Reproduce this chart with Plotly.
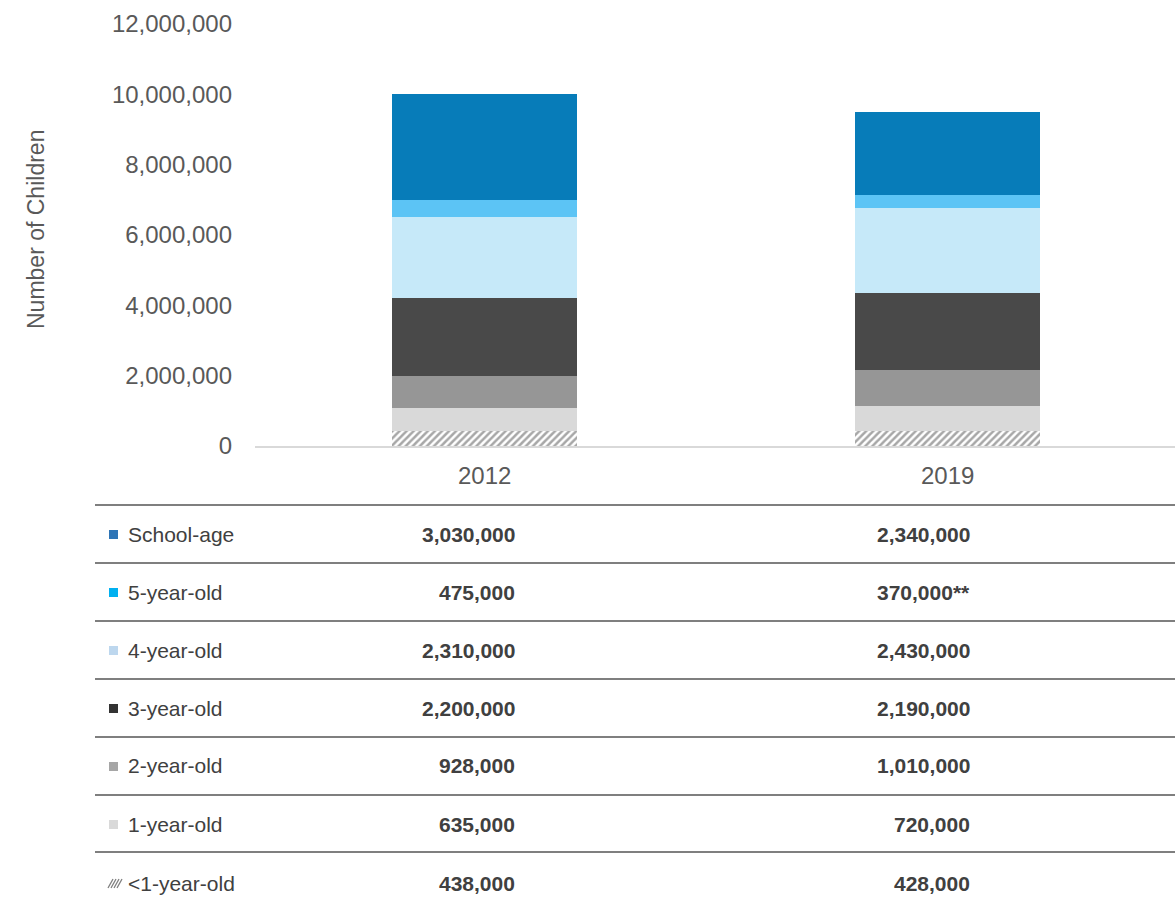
import plotly.graph_objects as go

years = ["2012", "2019"]
groups = ["<1-year-old", "1-year-old", "2-year-old", "3-year-old", "4-year-old", "5-year-old", "School-age"]
values_2012 = [438000, 635000, 928000, 2200000, 2310000, 475000, 3030000]
values_2019 = [428000, 720000, 1010000, 2190000, 2430000, 370000, 2340000]
notes_2019 = ["", "", "", "", "", "**", ""]
bar_colors = ["#FFFFFF", "#D9D9D9", "#969696", "#494949", "#C6E9F9", "#5CC4F5", "#077CB9"]
key_colors = ["#7F7F7F", "#D9D9D9", "#A6A6A6", "#333333", "#BDD7EE", "#00B0F0", "#2E75B6"]

W, H = 1175, 907
L, R, T, B = 255, 0, 24, 907 - 446
PW, PH = W - L - R, H - T - B


def px(x):
    return (x - L) / PW


def py(y):
    return (H - B - y) / PH


fig = go.Figure()
for i, g in enumerate(groups):
    marker = dict(color=bar_colors[i], line=dict(width=0))
    if i == 0:
        marker["pattern"] = dict(shape="/", fgcolor="#505050", bgcolor="#FFFFFF", size=5, solidity=0.5)
    fig.add_trace(go.Bar(x=years, y=[values_2012[i], values_2019[i]], name=g,
                         marker=marker, width=0.4, showlegend=False))

fig.update_layout(
    barmode="stack",
    width=W, height=H,
    margin=dict(l=L, r=R, t=T, b=B, pad=0),
    plot_bgcolor="white", paper_bgcolor="white",
    font=dict(family="Liberation Sans, Arial, sans-serif", color="#595959"),
)
fig.update_yaxes(range=[0, 12000000], dtick=2000000, tickformat=",", showgrid=False,
                 zeroline=False, showline=False, ticks="", ticklabelstandoff=22,
                 tickfont=dict(size=24, color="#595959"))
fig.update_xaxes(range=[-0.496, 1.491], showline=True, linecolor="#D9D9D9", linewidth=2, ticks="",
                 tickfont=dict(size=24, color="#595959"), ticklabelstandoff=7)

shapes = []
annotations = []
annotations.append(dict(text="Number of Children", textangle=-90, x=px(21), y=py(230),
                        xref="paper", yref="paper", showarrow=False,
                        font=dict(size=23, color="#595959")))

line_ys = [505, 563, 621, 679, 737, 795, 852]
row_ys = [534, 592, 650, 708, 766, 824, 883]
order = list(range(len(groups)))[::-1]
for r, gi in enumerate(order):
    shapes.append(dict(type="line", xref="paper", yref="paper", x0=px(95), x1=px(1180),
                       y0=py(line_ys[r]), y1=py(line_ys[r]), line=dict(color="#7F7F7F", width=2)))
    yc = row_ys[r]
    shapes.append(dict(type="rect", xref="paper", yref="paper", x0=px(109), x1=px(118),
                       y0=py(yc + 5), y1=py(yc - 4), fillcolor=key_colors[gi] if gi else "#FFFFFF",
                       line=dict(width=0)))
    if gi == 0:
        for k in range(4):
            x0 = 109 + k * 3
            shapes.append(dict(type="line", xref="paper", yref="paper",
                               x0=px(x0 - 1), x1=px(x0 + 4), y0=py(yc + 5), y1=py(yc - 4),
                               line=dict(color="#7F7F7F", width=1.3)))
    annotations.append(dict(text=groups[gi], x=px(126), y=py(yc), xref="paper", yref="paper",
                            xanchor="left", yanchor="middle", showarrow=False,
                            font=dict(size=21, color="#404040")))
    annotations.append(dict(text="<b>" + f"{values_2012[gi]:,}" + "</b>", x=px(517), y=py(yc),
                            xref="paper", yref="paper", xanchor="right", yanchor="middle",
                            showarrow=False, font=dict(size=21, color="#404040")))
    annotations.append(dict(text="<b>" + f"{values_2019[gi]:,}" + notes_2019[gi] + "</b>", x=px(972), y=py(yc),
                            xref="paper", yref="paper", xanchor="right", yanchor="middle",
                            showarrow=False, font=dict(size=21, color="#404040")))

fig.update_layout(shapes=shapes, annotations=annotations)
fig.write_html("out.html", config={"displayModeBar": False},
               post_script="document.body.style.margin='0';document.body.style.overflow='hidden';")
